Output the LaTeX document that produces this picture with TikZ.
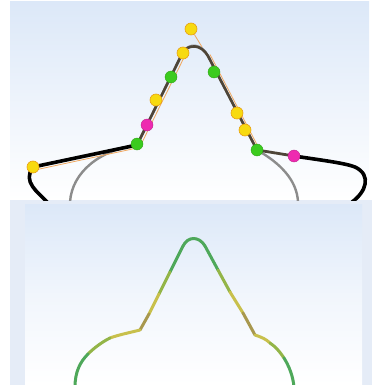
\documentclass[tikz,border=0pt]{standalone}
\usetikzlibrary{calc}
\definecolor{bgblue}{HTML}{DCE8F8}
\definecolor{bandblue}{HTML}{E5ECF7}
\definecolor{dotyellow}{HTML}{F7DA10}
\definecolor{dotyedge}{HTML}{E8A010}
\definecolor{dotgreen}{HTML}{3BCB1E}
\definecolor{dotmag}{HTML}{EE2AB0}
\definecolor{ctrgray}{HTML}{8C8C8C}
\definecolor{slopebrown}{HTML}{4E4538}
\definecolor{handle}{HTML}{F0A860}
\definecolor{cgreen}{HTML}{4EA85A}
\definecolor{colive}{HTML}{93B548}
\definecolor{cyellow}{HTML}{C8C04C}
\definecolor{cbrown}{HTML}{A8984E}
\tikzset{
  ydot/.style={circle,fill=dotyellow,draw=dotyedge,line width=0.6pt,inner sep=0pt,minimum size=12pt},
  gdot/.style={circle,fill=dotgreen,draw=dotgreen!80!black,line width=0.4pt,inner sep=0pt,minimum size=12pt},
  mdot/.style={circle,fill=dotmag,draw=dotmag!80!black,line width=0.4pt,inner sep=0pt,minimum size=12pt},
  blackline/.style={line width=3.6pt,black,line cap=round,line join=round},
  grayline/.style={line width=2.4pt,ctrgray,line cap=round,line join=round},
  slopeline/.style={line width=2.6pt,slopebrown,line cap=round,line join=round},
  orangeline/.style={line width=0.8pt,handle},
  gradseg/.style={line width=3pt,line cap=round,line join=round}
}
\begin{document}
\begin{tikzpicture}[x=1pt,y=-1pt]
\useasboundingbox (0,0) rectangle (372,385);
\fill[white] (0,0) rectangle (372,385);
% top panel
\shade[top color=bgblue,bottom color=white] (10,2) rectangle (369,200);
% bottom panel
\fill[bandblue] (10,200) rectangle (372,385);
\shade[top color=bgblue,bottom color=white,middle color=white!60!bgblue] (25,204) rectangle (362,385);

% ---------- top panel curves ----------
\begin{scope}
\clip (10,2) rectangle (369,200);
\coordinate (gL) at (70,202);
\coordinate (kL) at (137,145);
\coordinate (pL) at (183,52);
\coordinate (pR) at (208,56);
\coordinate (kR) at (257,150);
\coordinate (gR) at (298,202);
% gray underlying contour
\draw[grayline] (gL) .. controls (72,172) and (100,150) .. (kL) -- (pL)
  .. controls (189,43) and (201,43) .. (pR) -- (kR)
  .. controls (280,163) and (297,180) .. (gR);
% black outline pieces
\coordinate (bL0) at (47,202);
\coordinate (bL1) at (33,167);
\coordinate (mR) at (294,156);
\coordinate (bR0) at (352,202);
\draw[orangeline] ($(bL1)+(2,3)$) -- ($(kL)+(0,3)$);
\draw[blackline] (bL0) .. controls (38,192) and (22,182) .. (bL1) -- (kL);
\draw[orangeline] ($(kL)+(3,1.5)$) -- ($(pL)+(3,1.5)$);
\draw[orangeline] ($(pR)+(2,-1.5)$) -- ($(kR)+(2,-1.5)$);
\draw[slopeline] (kL) -- (pL) .. controls (189,44) and (201,44) .. (pR) -- (kR);
\draw[line width=2.8pt,slopebrown,line cap=round] (kR) -- (mR);
\draw[blackline] (mR) .. controls (320,160) and (345,163) .. (355,167)
  .. controls (372,175) and (366,192) .. (bR0);
% dots
\node[ydot] (y1) at (191,29) {};
\draw[orangeline] (y1) -- (202,47);
\node[ydot] (y2) at (183,53) {};
\node[gdot] (g1) at (171,77) {};
\node[ydot] (y3) at (156,100) {};
\node[mdot] (m1) at (147,125) {};
\node[gdot] (g2) at (137,144) {};
\node[ydot] (y4) at (33,167) {};
\node[gdot] (g3) at (214,72) {};
\node[ydot] (y5) at (237,113) {};
\node[ydot] (y6) at (245,130) {};
\node[gdot] (g4) at (257,150) {};
\node[mdot] (m2) at (294,156) {};
\end{scope}

% ---------- bottom panel curve ----------
\begin{scope}
\clip (25,204) rectangle (362,385);
\coordinate (a1) at (183,246);
\coordinate (a2) at (205,246);
\coordinate (s1) at (170,272);
\coordinate (s2) at (159,294);
\coordinate (s3) at (149,314);
\coordinate (k1) at (140,330);
\coordinate (t1) at (218,270);
\coordinate (t2) at (230,292);
\coordinate (t3) at (243,313);
\coordinate (k2) at (255,335);
\draw[gradseg,cgreen] (a1) .. controls (188,236) and (199,236) .. (a2);
\draw[gradseg,cgreen] (a1) -- (s1);
\draw[gradseg,colive] (s1) -- (s2);
\draw[gradseg,cyellow] (s2) -- (s3);
\draw[gradseg,cbrown] (s3) -- (k1);
\draw[gradseg,cgreen] (a2) -- (t1);
\draw[gradseg,colive] (t1) -- (t2);
\draw[gradseg,cyellow] (t2) -- (t3);
\draw[gradseg,cbrown] (t3) -- (k2);
\coordinate (l1) at (110,338);
\coordinate (l2) at (88,354);
\coordinate (l3) at (75,387);
\draw[gradseg,cyellow] (k1) .. controls (128,333) and (118,335) .. (l1);
\draw[gradseg,colive] (l1) .. controls (102,342) and (94,348) .. (l2);
\draw[gradseg,cgreen] (l2) .. controls (80,362) and (75,372) .. (l3);
\coordinate (r1) at (270,343);
\coordinate (r2) at (284,358);
\coordinate (r3) at (294,387);
\draw[gradseg,cyellow] (k2) .. controls (261,337) and (266,339) .. (r1);
\draw[gradseg,colive] (r1) .. controls (276,347) and (280,352) .. (r2);
\draw[gradseg,cgreen] (r2) .. controls (289,366) and (293,376) .. (r3);
\end{scope}
\end{tikzpicture}
\end{document}
